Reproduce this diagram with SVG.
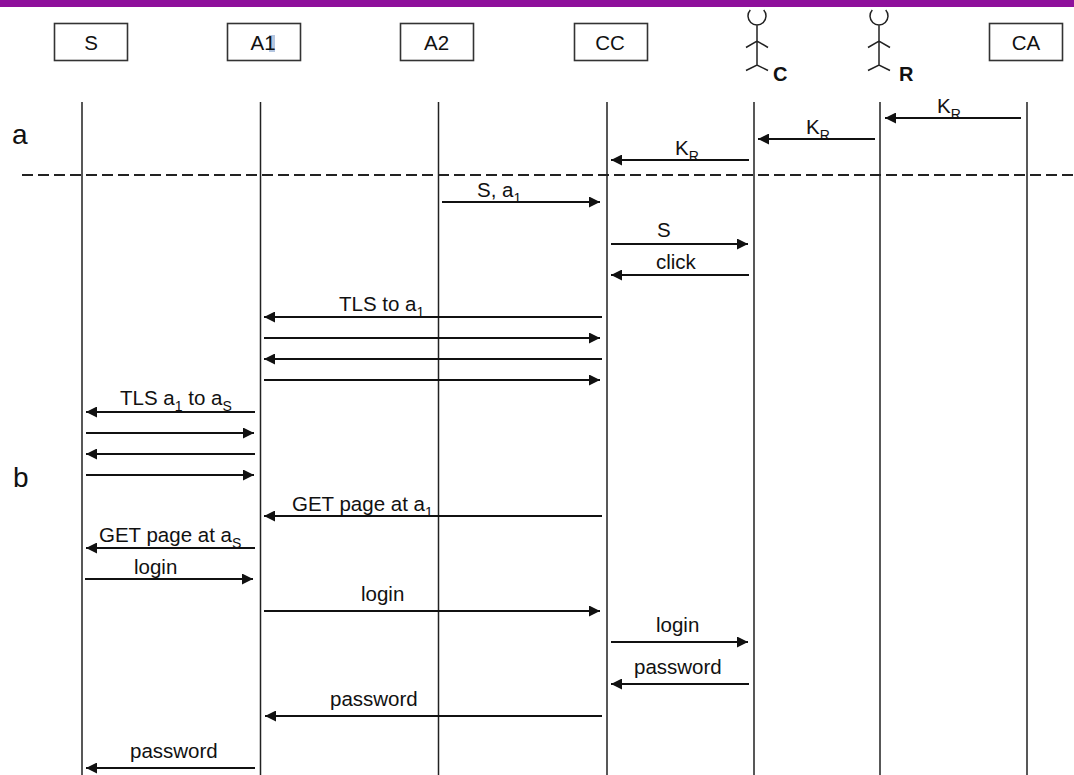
<svg xmlns="http://www.w3.org/2000/svg" width="1074" height="775" viewBox="0 0 1074 775">
<style>
text{font-family:"Liberation Sans",Arial,sans-serif;font-size:20.500px;fill:#111}
.b{fill:#fff;stroke:#333;stroke-width:1.6}
.l{stroke:#222;stroke-width:1.5;fill:none}
.d{stroke:#222;stroke-width:1.8;fill:none;stroke-dasharray:11 5}
.m{stroke:#111;stroke-width:1.9;fill:none}
.sub{font-size:14px}
.big{font-size:28px}
.bold{font-weight:bold;font-size:20px}
</style>
<defs>
<marker id="ah" markerUnits="userSpaceOnUse" markerWidth="12" markerHeight="11" refX="11" refY="5.500" orient="auto"><path d="M0 0L11 5.500L0 11Z" fill="#111"/></marker>
<path id="actor" class="l" d="M-6.7 10A9 9 0 1 0 6.7 10M0 25V65M-11 47.500L0 41L11 47.500M-11 70.500L0 65L11 70.500"/>
</defs>
<rect width="1074" height="775" fill="#fff"/>
<rect width="1074" height="7" fill="#8e109b"/>
<g id="node-S"><rect class="b" x="54.500" y="23.500" width="73" height="37"/><text x="91" y="49.500" text-anchor="middle">S</text></g>
<g id="node-A1"><rect class="b" x="227.500" y="23.500" width="73" height="37"/><rect x="269" y="35" width="6" height="17" fill="#b4c6e0"/><text x="263" y="49.500" text-anchor="middle">A1</text></g>
<g id="node-A2"><rect class="b" x="400.500" y="23.500" width="73" height="37"/><text x="436.500" y="49.500" text-anchor="middle">A2</text></g>
<g id="node-CC"><rect class="b" x="574.500" y="23.500" width="73" height="37"/><text x="610" y="49.500" text-anchor="middle">CC</text></g>
<g id="node-C"><use href="#actor" x="757"/><text class="bold" x="773" y="81">C</text></g>
<g id="node-R"><use href="#actor" x="879"/><text class="bold" x="899" y="81">R</text></g>
<g id="node-CA"><rect class="b" x="989.500" y="23.500" width="73" height="37"/><text x="1026" y="49.500" text-anchor="middle">CA</text></g>
<g id="connectors">
<path class="l" d="M82 102V775M260.500 102V775M438.500 102V775M607 102V775M754 102V775M880 102V775M1027 102V775"/>
<path class="d" d="M22 175H1074"/>
<g class="m">
<path marker-end="url(#ah)" d="M1021 118H885"/>
<path marker-end="url(#ah)" d="M875 139H758"/>
<path marker-end="url(#ah)" d="M749 160H611"/>
<path marker-end="url(#ah)" d="M442 202H600"/>
<path marker-end="url(#ah)" d="M611 244H748"/>
<path marker-end="url(#ah)" d="M749 275H611"/>
<path marker-end="url(#ah)" d="M602 317H264"/>
<path marker-end="url(#ah)" d="M264 338H600"/>
<path marker-end="url(#ah)" d="M602 359H264"/>
<path marker-end="url(#ah)" d="M264 380H600"/>
<path marker-end="url(#ah)" d="M255 412H86"/>
<path marker-end="url(#ah)" d="M86 433H254"/>
<path marker-end="url(#ah)" d="M255 454H86"/>
<path marker-end="url(#ah)" d="M86 475H254"/>
<path marker-end="url(#ah)" d="M602 516H264"/>
<path marker-end="url(#ah)" d="M255 548H86"/>
<path marker-end="url(#ah)" d="M85 579H253"/>
<path marker-end="url(#ah)" d="M264 611H600"/>
<path marker-end="url(#ah)" d="M611 642H748"/>
<path marker-end="url(#ah)" d="M749 684H611"/>
<path marker-end="url(#ah)" d="M602 716H265"/>
<path marker-end="url(#ah)" d="M255 768H86"/>
</g>
</g>
<g id="labels">
<text class="big" x="12" y="144">a</text>
<text class="big" x="13" y="487">b</text>
<text x="937" y="113">K<tspan class="sub" dy="6">R</tspan></text>
<text x="806" y="134">K<tspan class="sub" dy="6">R</tspan></text>
<text x="675" y="155">K<tspan class="sub" dy="6">R</tspan></text>
<text x="477" y="197">S, a<tspan class="sub" dy="6">1</tspan></text>
<text x="657" y="237">S</text>
<text x="656" y="269">click</text>
<text x="339" y="311">TLS to a<tspan class="sub" dy="6">1</tspan></text>
<text x="120" y="405">TLS a<tspan class="sub" dy="6">1</tspan><tspan dy="-6"> to a</tspan><tspan class="sub" dy="6">S</tspan></text>
<text x="292" y="511">GET page at a<tspan class="sub" dy="6">1</tspan></text>
<text x="99" y="542">GET page at a<tspan class="sub" dy="6">S</tspan></text>
<text x="134" y="574">login</text>
<text x="361" y="601">login</text>
<text x="656" y="632">login</text>
<text x="634" y="674">password</text>
<text x="330" y="706">password</text>
<text x="130" y="758">password</text>
</g>
</svg>
